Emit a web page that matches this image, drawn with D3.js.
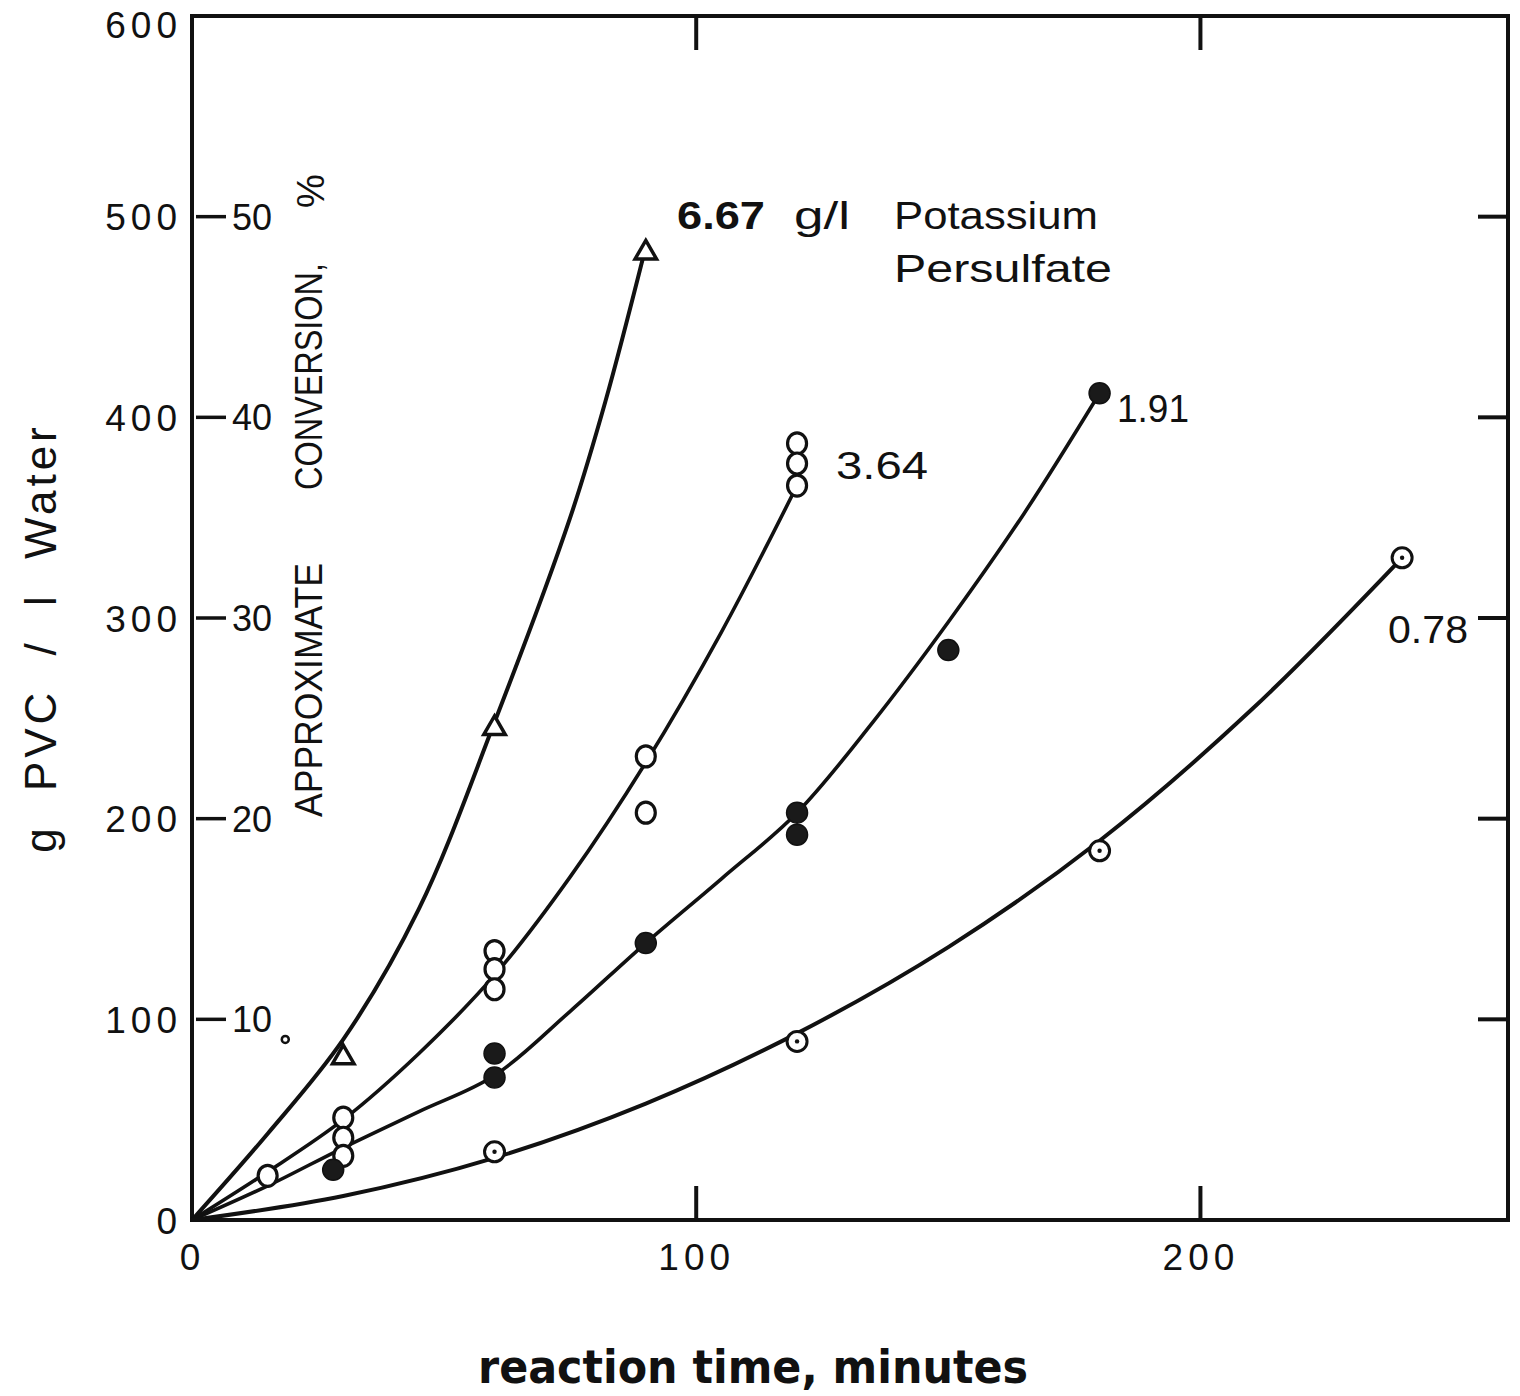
<!DOCTYPE html>
<html>
<head>
<meta charset="utf-8">
<script src="https://cdn.jsdelivr.net/npm/d3@7"></script>
<style>
  html, body { margin: 0; padding: 0; background: #fff; }
  svg { display: block; }
  text { fill: #111; }
</style>
</head>
<body>
<div id="chart"></div>
<script>
// ---------------- DATA ----------------
const xTicks = [0, 100, 200];
const yTicks = [0, 100, 200, 300, 400, 500, 600];
const convTicks = [10, 20, 30, 40, 50];
const rightTicks = [100, 200, 300, 400, 500];
const topTicks = [100, 200];

// 6.67 g/l (triangles)
const tri667T = [30, 60, 90];
const tri667V = [81, 245, 482];
// 3.64 g/l (open circles)
const open364T = [15, 30, 30, 30, 60, 60, 60, 90, 90, 120, 120, 120];
const open364V = [22, 51, 41, 32, 134, 125, 115, 231, 203, 387, 377, 366];
// 1.91 g/l (filled circles)
const fill191T = [28, 60, 60, 90, 120, 120, 150, 180];
const fill191V = [25, 83, 71, 138, 203, 192, 284, 412];
// 0.78 g/l (dotted circles)
const dot078T = [60, 120, 180, 240];
const dot078V = [34, 89, 184, 330];

// hand-drawn curves
const curve667T = [0, 15, 30, 45, 60, 75, 82, 90];
const curve667V = [0, 43, 90, 155, 248, 350, 408, 485];
const curve364T = [0, 15, 30, 45, 60, 75, 90, 105, 120];
const curve364V = [0, 24, 50, 83, 122, 171, 228, 293, 366];
const curve191T = [0, 15, 30, 45, 60, 75, 90, 105, 120, 135, 150, 165, 180];
const curve191V = [0, 17, 36, 54, 72, 104, 138, 170, 203, 248, 298, 352, 412];
const curve078T = [0, 30, 60, 90, 120, 150, 180, 210, 240];
const curve078V = [0, 12, 31, 58, 93, 136, 189, 254, 330];

const strayT = [18.5];
const strayV = [90];

const seriesLabels = ["3.64", "1.91", "0.78"];

// ---------------- DRAW ----------------
const W = 1520, H = 1396;
const svg = d3.select("#chart").append("svg").attr("width", W).attr("height", H);
svg.append("rect").attr("width", W).attr("height", H).attr("fill", "#fff");

const x = d3.scaleLinear().domain([0, 261]).range([192, 1508]);
const y = d3.scaleLinear().domain([0, 600]).range([1220, 16]);
const yConv = d3.scaleLinear().domain([0, 60]).range([1220, 16]);

const ink = "#111";
const numFont = "'Liberation Sans', Arial, sans-serif";

// frame
svg.append("rect")
  .attr("x", x(0)).attr("y", y(600))
  .attr("width", x(261) - x(0)).attr("height", y(0) - y(600))
  .attr("fill", "none").attr("stroke", ink).attr("stroke-width", 4);

// left axis labels
const gL = svg.append("g").attr("transform", `translate(${x(0) - 10},0)`)
  .call(d3.axisLeft(y).tickValues(yTicks).tickSize(0).tickPadding(0).tickFormat(d3.format("d")));
gL.select(".domain").remove();
gL.selectAll("text").attr("font-family", numFont).attr("font-size", 37)
  .attr("letter-spacing", 5).attr("fill", ink)
  .attr("dy", d => d === 600 ? "0.58em" : "0.36em");

// bottom axis labels
const gB = svg.append("g").attr("transform", `translate(0,${y(0) + 20})`)
  .call(d3.axisBottom(x).tickValues(xTicks).tickSize(0).tickPadding(0).tickFormat(d3.format("d")));
gB.select(".domain").remove();
gB.selectAll("text").attr("font-family", numFont).attr("font-size", 37)
  .attr("letter-spacing", 5).attr("fill", ink).attr("dy", "0.8em");

// bottom inward ticks
svg.append("g").selectAll("line").data(topTicks).join("line")
  .attr("x1", d => x(d)).attr("x2", d => x(d))
  .attr("y1", y(0)).attr("y2", y(0) - 34)
  .attr("stroke", ink).attr("stroke-width", 4);
// top inward ticks
svg.append("g").selectAll("line").data(topTicks).join("line")
  .attr("x1", d => x(d)).attr("x2", d => x(d))
  .attr("y1", y(600)).attr("y2", y(600) + 34)
  .attr("stroke", ink).attr("stroke-width", 4);
// right inward ticks
svg.append("g").selectAll("line").data(rightTicks).join("line")
  .attr("x1", x(261)).attr("x2", x(261) - 30)
  .attr("y1", d => y(d)).attr("y2", d => y(d))
  .attr("stroke", ink).attr("stroke-width", 4);

// conversion ticks on the inside of the left axis
const gC = svg.append("g");
gC.selectAll("line").data(convTicks).join("line")
  .attr("x1", x(0) + 4).attr("x2", x(0) + 34)
  .attr("y1", d => yConv(d)).attr("y2", d => yConv(d))
  .attr("stroke", ink).attr("stroke-width", 3.5);
gC.selectAll("text").data(convTicks).join("text")
  .attr("x", x(0) + 40).attr("y", d => yConv(d)).attr("dy", "0.36em")
  .attr("font-family", numFont).attr("font-size", 36).attr("fill", ink)
  .text(d => d);

// rotated conversion label
svg.append("text")
  .attr("transform", `translate(322,${(563 + 817) / 2}) rotate(-90)`)
  .attr("text-anchor", "middle").attr("font-family", numFont).attr("font-size", 39)
  .attr("textLength", 254).attr("lengthAdjust", "spacingAndGlyphs")
  .text("APPROXIMATE");
svg.append("text")
  .attr("transform", `translate(322,${(263 + 490) / 2}) rotate(-90)`)
  .attr("text-anchor", "middle").attr("font-family", numFont).attr("font-size", 39)
  .attr("textLength", 227).attr("lengthAdjust", "spacingAndGlyphs")
  .text("CONVERSION,");
svg.append("text")
  .attr("transform", `translate(324,191) rotate(-90)`)
  .attr("text-anchor", "middle").attr("font-family", numFont).attr("font-size", 38)
  .text("%");

// y title
svg.append("text")
  .attr("transform", `translate(56,638) rotate(-90)`)
  .attr("font-family", numFont).attr("font-size", 44).attr("text-anchor", "middle")
  .attr("letter-spacing", 4).attr("word-spacing", 17)
  .text("g PVC / l Water");

// x title
svg.append("text")
  .attr("x", 753).attr("y", 1383)
  .attr("text-anchor", "middle").attr("font-family", "'DejaVu Sans', sans-serif")
  .attr("font-weight", "bold").attr("font-size", 46)
  .attr("textLength", 550).attr("lengthAdjust", "spacingAndGlyphs")
  .text("reaction time, minutes");

// curves
const line = d3.line().x(d => x(d[0])).y(d => y(d[1])).curve(d3.curveCatmullRom.alpha(0.5));
const curves = [
  [curve667T, curve667V, 4],
  [curve364T, curve364V, 3.6],
  [curve191T, curve191V, 3.6],
  [curve078T, curve078V, 4]
];
svg.append("g").selectAll("path").data(curves).join("path")
  .attr("d", c => line(d3.zip(c[0], c[1])))
  .attr("fill", "none").attr("stroke", ink).attr("stroke-width", c => c[2])
  .attr("stroke-linecap", "round");

// markers
const mk = svg.append("g");
mk.selectAll(".tri").data(d3.zip(tri667T, tri667V)).join("path")
  .attr("class", "tri")
  .attr("transform", d => `translate(${x(d[0])},${y(d[1])})`)
  .attr("d", d3.symbol(d3.symbolTriangle, 200))
  .attr("fill", "#fff").attr("stroke", ink).attr("stroke-width", 3.5);

mk.selectAll(".open").data(d3.zip(open364T, open364V)).join("ellipse")
  .attr("class", "open")
  .attr("cx", d => x(d[0])).attr("cy", d => y(d[1]))
  .attr("rx", 9.5).attr("ry", 10.5)
  .attr("fill", "#fff").attr("stroke", ink).attr("stroke-width", 3.2);

mk.selectAll(".fill").data(d3.zip(fill191T, fill191V)).join("circle")
  .attr("class", "fill")
  .attr("cx", d => x(d[0])).attr("cy", d => y(d[1])).attr("r", 10.5)
  .attr("fill", "#1a1a1a").attr("stroke", ink).attr("stroke-width", 1.5);

const dg = mk.selectAll(".dot").data(d3.zip(dot078T, dot078V)).join("g")
  .attr("class", "dot")
  .attr("transform", d => `translate(${x(d[0])},${y(d[1])})`);
dg.append("circle").attr("r", 10).attr("fill", "#fff").attr("stroke", ink).attr("stroke-width", 3);
dg.append("circle").attr("r", 2.2).attr("fill", ink);

mk.selectAll(".stray").data(d3.zip(strayT, strayV)).join("circle")
  .attr("class", "stray")
  .attr("cx", d => x(d[0])).attr("cy", d => y(d[1])).attr("r", 3.5)
  .attr("fill", "#fff").attr("stroke", ink).attr("stroke-width", 2.5);

// annotations
const ann = svg.append("g").attr("font-family", numFont).attr("font-size", 38).attr("fill", ink);
ann.append("text").attr("x", 677).attr("y", 229).attr("font-weight", "bold")
  .attr("textLength", 88).attr("lengthAdjust", "spacingAndGlyphs").text("6.67");
ann.append("text").attr("x", 794).attr("y", 229)
  .attr("textLength", 56).attr("lengthAdjust", "spacingAndGlyphs").text("g/l");
ann.append("text").attr("x", 894).attr("y", 229)
  .attr("textLength", 204).attr("lengthAdjust", "spacingAndGlyphs").text("Potassium");
ann.append("text").attr("x", 894).attr("y", 282)
  .attr("textLength", 218).attr("lengthAdjust", "spacingAndGlyphs").text("Persulfate");
ann.append("text").attr("x", 836).attr("y", 479)
  .attr("textLength", 92).attr("lengthAdjust", "spacingAndGlyphs").text(seriesLabels[0]);
ann.append("text").attr("x", 1117).attr("y", 422)
  .attr("textLength", 72).attr("lengthAdjust", "spacingAndGlyphs").text(seriesLabels[1]);
ann.append("text").attr("x", 1388).attr("y", 643)
  .attr("textLength", 80).attr("lengthAdjust", "spacingAndGlyphs").text(seriesLabels[2]);
</script>
</body>
</html>
